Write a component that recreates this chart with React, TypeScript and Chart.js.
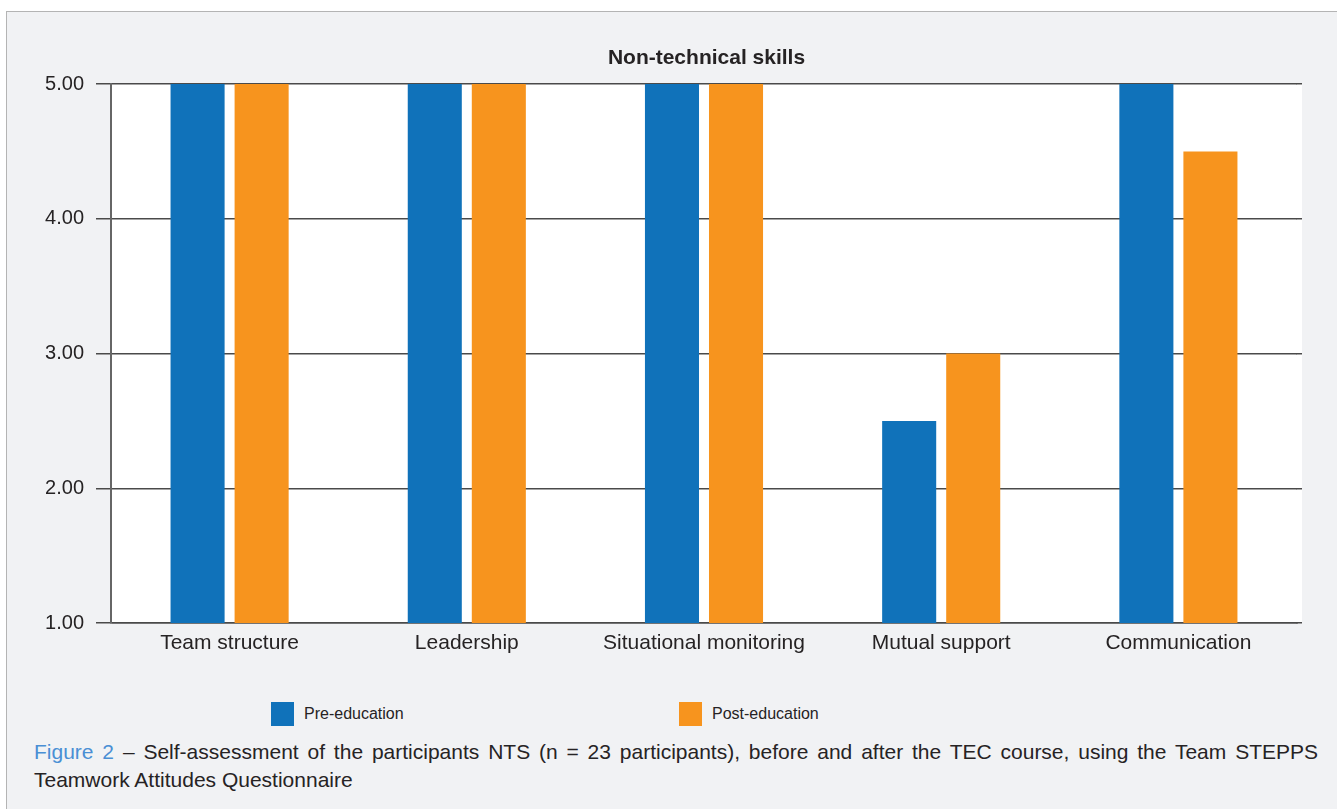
import React, { useEffect, useRef } from "react";
import { Chart, registerables } from "chart.js";

Chart.register(...registerables);

const categories = ["Team structure", "Leadership", "Situational monitoring", "Mutual support", "Communication"];
const preEducation = [5.0, 5.0, 5.0, 2.5, 5.0];
const postEducation = [5.0, 5.0, 5.0, 3.0, 4.5];
const yTicks = [1, 2, 3, 4, 5];
const seriesNames = ["Pre-education", "Post-education"];
const chartTitle = "Non-technical skills";

const BLUE = "#1072ba";
const ORANGE = "#f7941e";
const TEXT = "#262324";
const GRID = "#4a4a4a";
const FONT = "'Liberation Sans', Arial, Helvetica, sans-serif";
const EXTRA_RIGHT = 5;

const bgPlugin = {
  id: "areaBg",
  beforeDraw(chart: any) {
    const { ctx, chartArea } = chart;
    ctx.save();
    ctx.fillStyle = "#ffffff";
    ctx.fillRect(
      chartArea.left,
      chartArea.top,
      chartArea.right - chartArea.left + EXTRA_RIGHT,
      chartArea.bottom - chartArea.top
    );
    ctx.restore();
  },
  afterDatasetsDraw(chart: any) {
    // extend horizontal grid lines a little past the category area
    const { ctx, chartArea } = chart;
    const y = chart.scales.y;
    ctx.save();
    ctx.strokeStyle = GRID;
    ctx.lineWidth = 1.5;
    yTicks.forEach((v) => {
      const raw = y.getPixelForValue(v);
      const py = Math.round(raw - 0.75) + 0.75;
      ctx.beginPath();
      ctx.moveTo(chartArea.right - 0.5, py);
      ctx.lineTo(chartArea.right + EXTRA_RIGHT, py);
      ctx.stroke();
    });
    ctx.restore();
  },
  afterDraw(chart: any) {
    const { ctx, chartArea } = chart;
    ctx.save();
    ctx.fillStyle = TEXT;
    ctx.font = `bold 21px ${FONT}`;
    ctx.textAlign = "center";
    ctx.textBaseline = "middle";
    ctx.fillText(chartTitle, (chartArea.left + chartArea.right + EXTRA_RIGHT) / 2, chartArea.top - 26);
    ctx.restore();
  },
};

export default function App() {
  const ref = useRef<HTMLCanvasElement>(null);

  useEffect(() => {
    const chart = new Chart(ref.current as HTMLCanvasElement, {
      type: "bar",
      data: {
        labels: categories,
        datasets: [
          {
            label: seriesNames[0],
            data: preEducation,
            backgroundColor: BLUE,
            categoryPercentage: 0.54,
            barPercentage: 0.844,
          },
          {
            label: seriesNames[1],
            data: postEducation,
            backgroundColor: ORANGE,
            categoryPercentage: 0.54,
            barPercentage: 0.844,
          },
        ],
      },
      options: {
        animation: false,
        responsive: false,
        maintainAspectRatio: false,
        layout: { padding: { top: 84, right: 35 + EXTRA_RIGHT, left: 0, bottom: 0 } },
        plugins: {
          legend: { display: false },
          title: { display: false },
          tooltip: { enabled: false },
        },
        scales: {
          x: {
            afterFit: (s: any) => {
              s.height = 57;
            },
            grid: { display: false, drawTicks: false },
            border: { display: true, color: GRID, width: 1.5 },
            ticks: {
              color: TEXT,
              font: { family: FONT, size: 21 },
              padding: 8,
              maxRotation: 0,
              autoSkip: false,
            },
          },
          y: {
            min: 1,
            max: 5,
            afterFit: (s: any) => {
              s.width = 111;
            },
            afterBuildTicks: (s: any) => {
              s.ticks = yTicks.map((v) => ({ value: v }));
            },
            grid: {
              color: GRID,
              lineWidth: 1.5,
              tickLength: 15,
              tickColor: GRID,
              tickWidth: 1.5,
            },
            border: { display: true, color: "#666666", width: 2 },
            ticks: {
              color: TEXT,
              font: { family: FONT, size: 20 },
              padding: 12,
              callback: (v: any) => Number(v).toFixed(2),
            },
          },
        },
      },
      plugins: [bgPlugin],
    });
    return () => chart.destroy();
  }, []);

  return (
    <div>
      <div
        style={{
          position: "absolute",
          left: 6,
          top: 11,
          width: 1331,
          height: 798,
          boxSizing: "border-box",
          background: "#f1f2f4",
          borderTop: "1px solid #b4b4b4",
          borderLeft: "1px solid #b4b4b4",
        }}
      />
      <canvas
        ref={ref}
        width={1337}
        height={680}
        style={{ position: "absolute", left: 0, top: 0, width: 1337, height: 680 }}
      />
      {[
        { x: 271, color: BLUE, name: seriesNames[0] },
        { x: 679, color: ORANGE, name: seriesNames[1] },
      ].map((item) => (
        <div
          key={item.name}
          style={{
            position: "absolute",
            left: item.x,
            top: 702,
            height: 24,
            display: "flex",
            alignItems: "center",
            fontFamily: FONT,
            fontSize: 16,
            color: TEXT,
            whiteSpace: "nowrap",
          }}
        >
          <span style={{ display: "inline-block", width: 23, height: 24, background: item.color, marginRight: 10 }} />
          <span>{item.name}</span>
        </div>
      ))}
      <div
        style={{
          position: "absolute",
          left: 34,
          top: 738,
          width: 1284,
          fontFamily: FONT,
          fontSize: 21,
          lineHeight: "28px",
          color: TEXT,
          textAlign: "justify",
        }}
      >
        <span style={{ color: "#4a8fd4" }}>Figure 2</span> – Self-assessment of the participants NTS (n = 23
        participants), before and after the TEC course, using the Team STEPPS Teamwork Attitudes Questionnaire
      </div>
    </div>
  );
}
